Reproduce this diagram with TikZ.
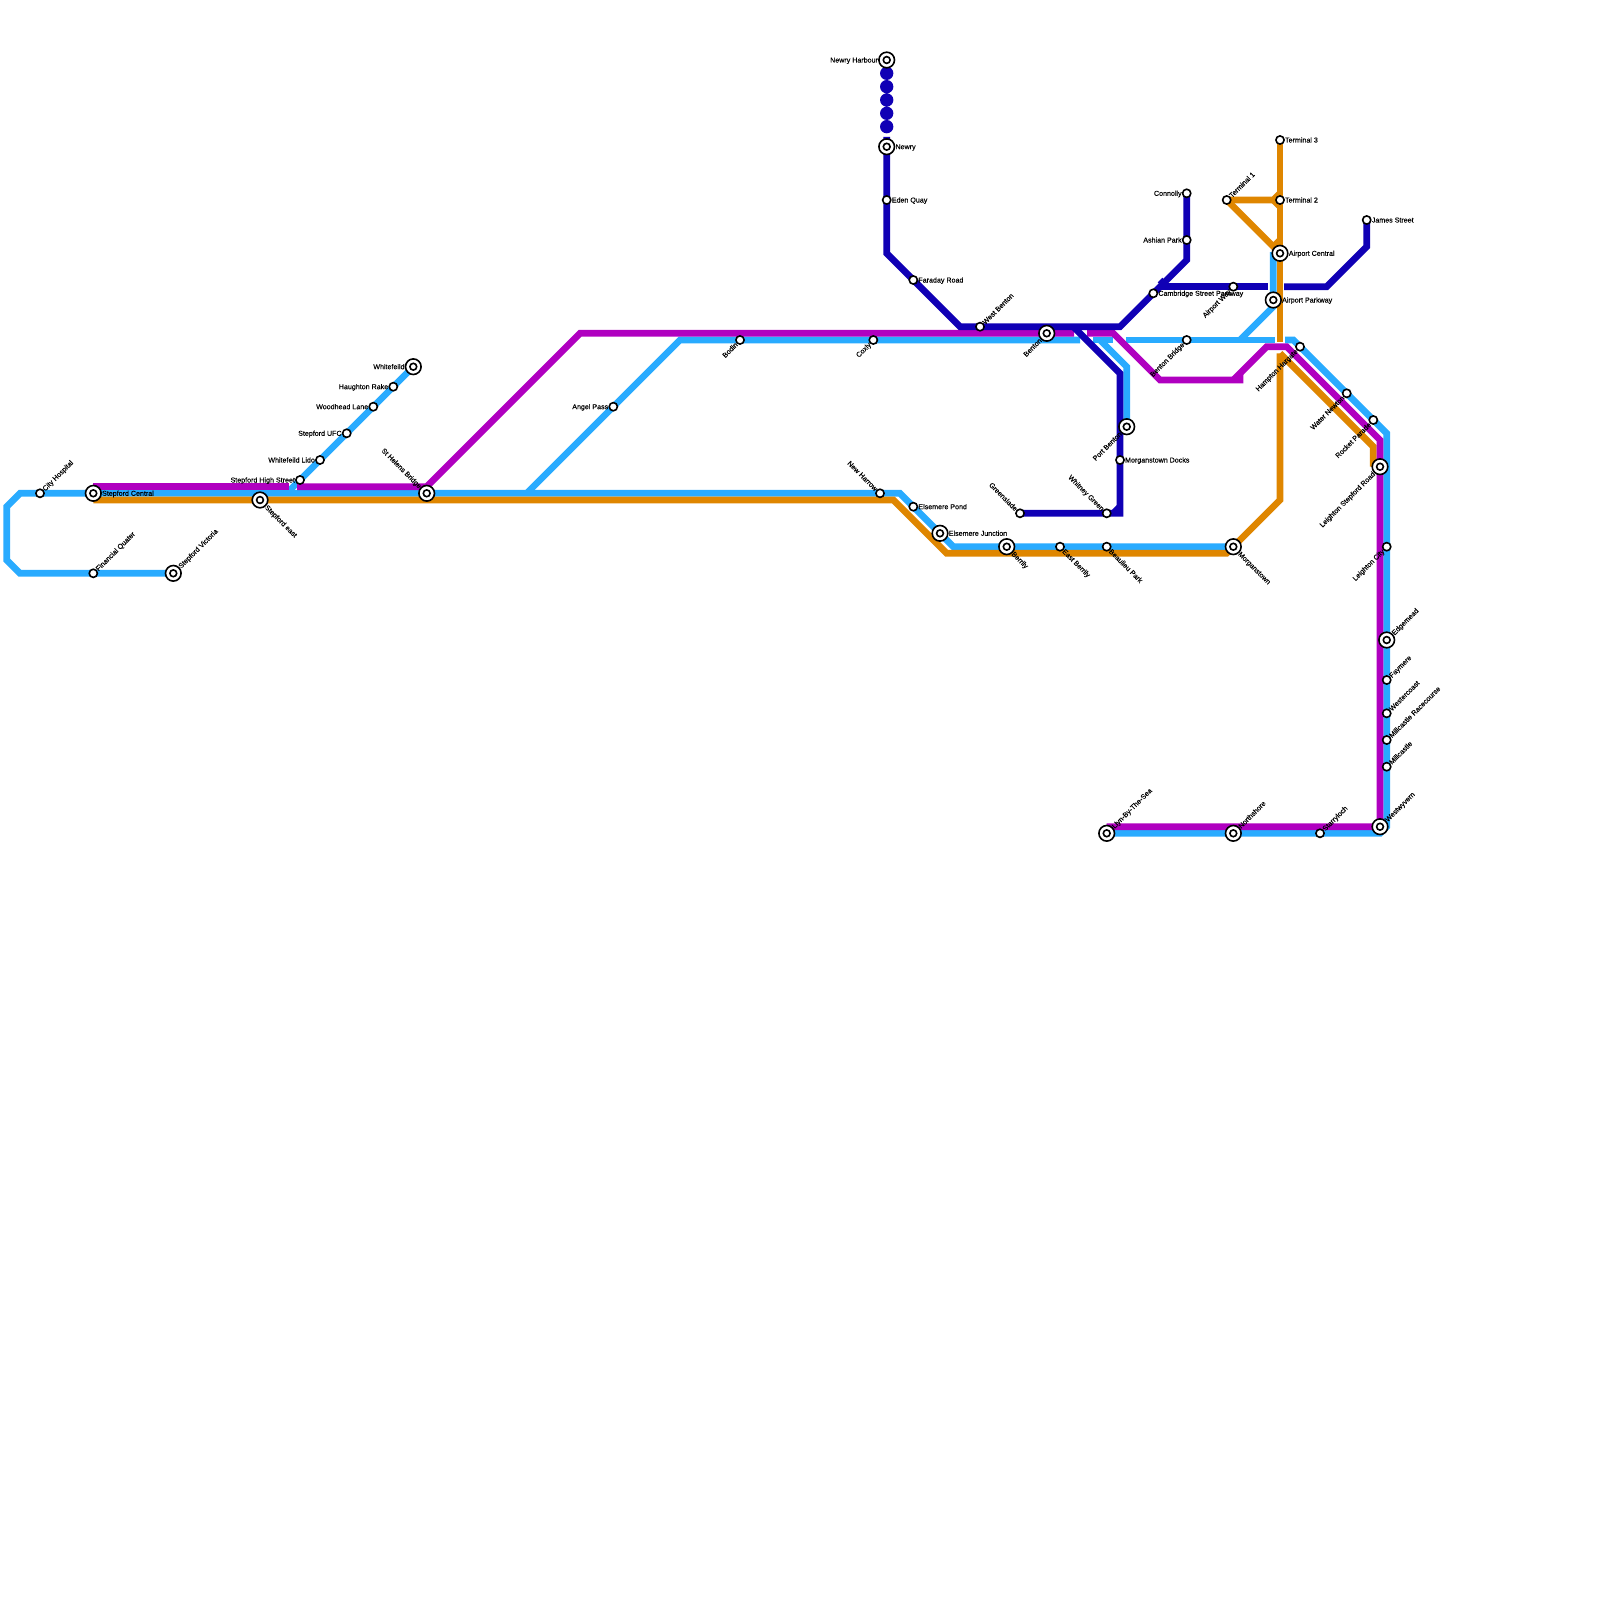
\documentclass[tikz,border=0pt]{standalone}
\usepackage{fontspec}
\setmainfont{Liberation Sans}
\newfontfamily\lblfont{Liberation Sans}[FakeBold=0.15]
\usetikzlibrary{backgrounds}

\begin{document}
\begin{tikzpicture}[
    x=1pt, y=-1pt,
    lbl/.style={font=\lblfont\fontsize{7.1}{8}\selectfont, inner sep=0pt, text height=5pt, text depth=0pt, text=black},
    stop/.style={circle, draw=black, line width=1.6pt, fill=white, minimum size=8.2pt, inner sep=0pt, label distance=1.2pt},
    hub/.style={circle, draw=black, line width=1.6pt, fill=white, minimum size=15.6pt, inner sep=0pt, label distance=3.8pt,
        path picture={\draw [line width=1.6pt] (path picture bounding box.center) circle (3.4pt);}},
    lE/.style={label={[lbl, anchor=west]0:#1}},
    lW/.style={label={[lbl, anchor=east]180:#1}},
    lNE/.style={label={[lbl, rotate=45, anchor=west]45:#1}},
    lSE/.style={label={[lbl, rotate=-45, anchor=west]-45:#1}},
    lNW/.style={label={[lbl, rotate=-45, anchor=east]135:#1}},
    lSW/.style={label={[lbl, rotate=45, anchor=east]225:#1}},
    tubeblue/.style={draw={rgb,255:red,41;green,171;blue,255}, line width=6.67pt},
    tubeorange/.style={draw={rgb,255:red,223;green,134;blue,0}, line width=6.67pt},
    tubepurple/.style={draw={rgb,255:red,176;green,0;blue,192}, line width=6.67pt},
    tubenavy/.style={draw={rgb,255:red,16;green,0;blue,181}, line width=6.67pt}
]
\useasboundingbox (0,0) rectangle (1600,1600);

\node (central) [hub, lE={Stepford Central}] at (93.3,493.3) {};
\node (cityhosp) [stop, lNE={City Hospital}] at (40,493.3) {};
\node (finquarter) [stop, lNE={Financial Quater}] at (93.3,573.3) {};
\node (victoria) [hub, lNE={Stepford Victoria}] at (173.3,573.3) {};
\node (steast) [hub, lSE={Stepford east}] at (260,500) {};
\node (sthigh) [stop, lW={Stepford High Street}] at (300,480) {};
\node (wflido) [stop, lW={Whitefeild Lido}] at (320,460) {};
\node (stufc) [stop, lW={Stepford UFC}] at (346.7,433.3) {};
\node (woodhead) [stop, lW={Woodhead Lane}] at (373.3,406.7) {};
\node (haughton) [stop, lW={Haughton Rake}] at (393.3,386.7) {};
\node (whitefeild) [hub, lW={Whitefeild}] at (413.3,366.7) {};
\node (sthelens) [hub, lNW={St Helens Bridge}] at (426.7,493.3) {};
\node (angelpass) [stop, lW={Angel Pass}] at (613.3,406.7) {};
\node (bodin) [stop, lSW={Bodin}] at (740,340) {};
\node (coxly) [stop, lSW={Coxly}] at (873.3,340) {};
\node (newharrow) [stop, lNW={New Harrow}] at (880,493.3) {};
\node (elspond) [stop, lE={Elsemere Pond}] at (913.3,506.7) {};
\node (elsjunction) [hub, lE={Elsemere Junction}] at (940,533.3) {};
\node (berrily) [hub, lSE={Berrily}] at (1006.7,546.7) {};
\node (eastberrily) [stop, lSE={East Berrily}] at (1060,546.7) {};
\node (beaulieu) [stop, lSE={Beaulieu Park}] at (1106.7,546.7) {};
\node (morganstown) [hub, lSE={Morganstown}] at (1233.3,546.7) {};
\node (greenslade) [stop, lNW={Greenslade}] at (1020,513.3) {};
\node (whitney) [stop, lNW={Whitney Green}] at (1106.7,513.3) {};
\node (mdocks) [stop, lE={Morganstown Docks}] at (1120,460) {};
\node (portbenton) [hub, lSW={Port Benton}] at (1126.7,426.7) {};
\node (benton) [hub, lSW={Benton}] at (1046.7,333.3) {};
\node (westbenton) [stop, lNE={West Benton}] at (980,326.7) {};
\node (faraday) [stop, lE={Faraday Road}] at (913.3,280) {};
\node (eden) [stop, lE={Eden Quay}] at (886.7,200) {};
\node (newry) [hub, lE={Newry}] at (886.7,146.7) {};
\node (nharbour) [hub, lW={Newry Harbour}] at (886.7,60) {};
\node (connolly) [stop, lW={Connolly}] at (1186.7,193.3) {};
\node (ashian) [stop, lW={Ashian Park}] at (1186.7,240) {};
\node (cambridge) [stop, lE={Cambridge Street Parkway}] at (1153.3,293.3) {};
\node (bbridge) [stop, lSW={Benton Bridge}] at (1186.7,340) {};
\node (airway) [stop, lSW={Airport Way}] at (1233.3,286.7) {};
\node (aparkway) [hub, lE={Airport Parkway}] at (1273.3,300) {};
\node (acentral) [hub, lE={Airport Central}] at (1280,253.3) {};
\node (terminal3) [stop, lE={Terminal 3}] at (1280,140) {};
\node (terminal2) [stop, lE={Terminal 2}] at (1280,200) {};
\node (terminal1) [stop, lNE={Terminal 1}] at (1226.7,200) {};
\node (james) [stop, lE={James Street}] at (1366.7,220) {};
\node (hampton) [stop, lSW={Hampton Hargate}] at (1300,346.7) {};
\node (water) [stop, lSW={Water Newton}] at (1346.7,393.3) {};
\node (rocket) [stop, lSW={Rocket Parade}] at (1373.3,420) {};
\node (lstepford) [hub, lSW={Leighton Stepford Road}] at (1380,466.7) {};
\node (lcity) [stop, lSW={Leighton City}] at (1386.7,546.7) {};
\node (edgemead) [hub, lNE={Edgemead}] at (1386.7,640) {};
\node (faymere) [stop, lNE={Faymere}] at (1386.7,680) {};
\node (westercoast) [stop, lNE={Westercoast}] at (1386.7,713.3) {};
\node (racecourse) [stop, lNE={Millcastle Racecourse}] at (1386.7,740) {};
\node (millcastle) [stop, lNE={Millcastle}] at (1386.7,766.7) {};
\node (westwyvern) [hub, lNE={Westwyvern}] at (1380,826.7) {};
\node (starryloch) [stop, lNE={Starryloch}] at (1320,833.3) {};
\node (northshore) [hub, lNE={Northshore}] at (1233.3,833.3) {};
\node (llyn) [hub, lNE={Llyn-By-The-Sea}] at (1106.7,833.3) {};

\coordinate (lb1) at (20,573.3);
\coordinate (lb2) at (6.7,560);
\coordinate (lb3) at (6.7,506.7);
\coordinate (lb4) at (20,493.3);
\coordinate (lb5) at (900,493.3);
\coordinate (lb6) at (953.3,546.7);
\coordinate (lb7) at (286.7,493.3);
\coordinate (lb8) at (526.7,493.3);
\coordinate (lb9) at (680,340);
\coordinate (lb10) at (1080,340);
\coordinate (lb11) at (1093,340);
\coordinate (lb12) at (1113,340);
\coordinate (lb13) at (1100,340);
\coordinate (lb14) at (1126.7,366.7);
\coordinate (lb15) at (1126,340);
\coordinate (lb16) at (1275,340);
\coordinate (lb17) at (1285,340);
\coordinate (lb18) at (1293.3,340);
\coordinate (lb19) at (1386.7,433.3);
\coordinate (lb20) at (1386.7,826.7);
\coordinate (lb21) at (1380,833.3);
\coordinate (lb22) at (1273.3,252);
\coordinate (lb23) at (1273.3,306.7);
\coordinate (lb24) at (1240,340);

\coordinate (or1) at (93.3,500);
\coordinate (or2) at (893.3,500);
\coordinate (or3) at (946.7,553.3);
\coordinate (or4) at (1226.7,553.3);
\coordinate (or5) at (1280,500);
\coordinate (or6) at (1280,353.3);
\coordinate (or7) at (1373.3,446.7);
\coordinate (or8) at (1373.3,466.7);
\coordinate (or9) at (1280,342);
\coordinate (or10) at (1273.3,200);
\coordinate (or11) at (1280,193.3);
\coordinate (or12) at (1280,206.7);
\coordinate (or13) at (1273.3,246.7);
\coordinate (or14) at (1280,240);

\coordinate (pu1) at (93.3,486.7);
\coordinate (pu2) at (289,486.7);
\coordinate (pu3) at (297,486.7);
\coordinate (pu4) at (426.7,486.7);
\coordinate (pu5) at (580,333.3);
\coordinate (pu6) at (1074,333.3);
\coordinate (pu7) at (1087,333.3);
\coordinate (pu8) at (1113.3,333.3);
\coordinate (pu9) at (1160,380);
\coordinate (pu10) at (1240,380);
\coordinate (pu11) at (1240,373.3);
\coordinate (pu12) at (1233.3,380);
\coordinate (pu13) at (1266.7,346.7);
\coordinate (pu14) at (1286.7,346.7);
\coordinate (pu15) at (1380,440);
\coordinate (pu16) at (1106.7,826.7);

\coordinate (nv0) at (886.7,126.7);
\coordinate (nv1) at (886.7,137);
\coordinate (nv2) at (886.7,253.3);
\coordinate (nv3) at (960,326.7);
\coordinate (nv4) at (1120,326.7);
\coordinate (nv5) at (1186.7,260);
\coordinate (nv6) at (1160,286.7);
\coordinate (nv7) at (1268,286.7);
\coordinate (nv8) at (1166.7,286.7);
\coordinate (nv9) at (1160,280);
\coordinate (nv10) at (1284,286.7);
\coordinate (nv11) at (1326.7,286.7);
\coordinate (nv12) at (1366.7,246.7);
\coordinate (nv13) at (1120,513.3);
\coordinate (nv14) at (1120,373.3);
\coordinate (nv15) at (1073.3,326.7);
\coordinate (nv16) at (1113.3,513.3);
\coordinate (nv17) at (1120,506.7);

\begin{scope}[on background layer]
\draw [tubeblue] (victoria.center) -- (lb1) -- (lb2) -- (lb3) -- (lb4) -- (lb5) -- (lb6) -- (morganstown.center);
\draw [tubeblue] (whitefeild.center) -- (lb7);
\draw [tubeblue] (lb8) -- (lb9) -- (lb10);
\draw [tubeblue] (lb11) -- (lb12);
\draw [tubeblue] (lb13) -- (lb14) -- (portbenton.center);
\draw [tubeblue] (lb15) -- (lb16);
\draw [tubeblue] (lb17) -- (lb18) -- (lb19) -- (lb20) -- (lb21) -- (llyn.center);
\draw [tubeblue] (lb22) -- (lb23) -- (lb24);

\draw [tubeorange] (or1) -- (or2) -- (or3) -- (or4) -- (morganstown.center) -- (or5) -- (or6);
\draw [tubeorange] (or6) -- (or7) -- (or8);
\draw [tubeorange] (terminal3.center) -- (or9);
\draw [tubeorange] (terminal1.center) -- (or10) -- (or11);
\draw [tubeorange] (or10) -- (or12);
\draw [tubeorange] (terminal1.center) -- (acentral.center);
\draw [tubeorange] (or13) -- (or14);

\draw [tubepurple] (pu1) -- (pu2);
\draw [tubepurple] (pu3) -- (pu4) -- (pu5) -- (pu6);
\draw [tubepurple] (pu7) -- (pu8) -- (pu9) -- (pu10) -- (pu11);
\draw [tubepurple] (pu12) -- (pu13) -- (pu14) -- (pu15) -- (westwyvern.center) -- (pu16);

\draw [tubenavy, line width=13.33pt, line cap=round, dash pattern=on 0pt off 13.33pt] (nharbour.center) -- (nv0);
\draw [tubenavy] (nv1) -- (nv2) -- (nv3) -- (nv4) -- (nv5) -- (connolly.center);
\draw [tubenavy] (nv6) -- (nv7);
\draw [tubenavy] (nv8) -- (nv9);
\draw [tubenavy] (nv10) -- (nv11) -- (nv12) -- (james.center);
\draw [tubenavy] (greenslade.center) -- (nv13) -- (nv14) -- (nv15);
\draw [tubenavy] (nv16) -- (nv17);
\end{scope}
\end{tikzpicture}
\end{document}
